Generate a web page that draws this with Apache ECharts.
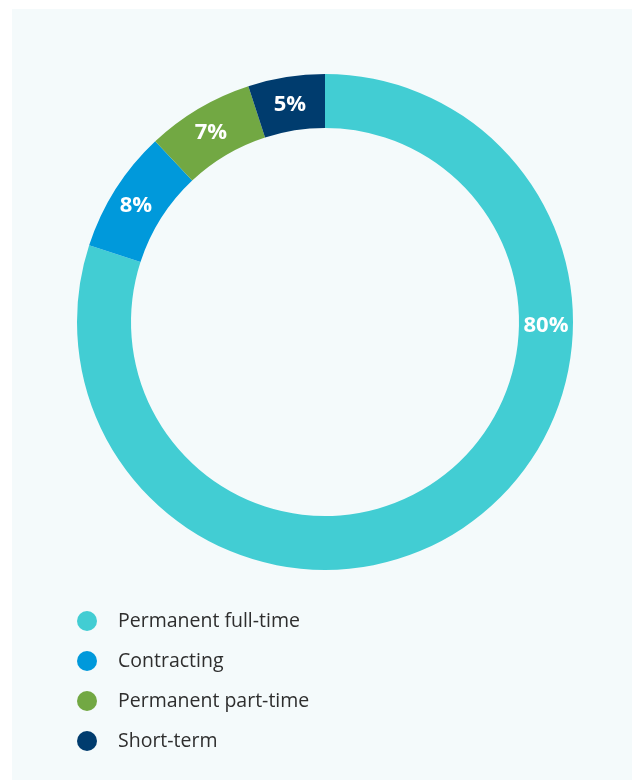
<!DOCTYPE html>
<html>
<head>
<meta charset="utf-8">
<script src="https://cdn.jsdelivr.net/npm/echarts@6/dist/echarts.min.js"></script>
<style>
  html, body { margin: 0; padding: 0; background: #ffffff; }
  #chart { width: 632px; height: 780px; }
</style>
</head>
<body>
<div id="chart"></div>
<script>
// Employment type breakdown (percent)
const categories = ['Permanent full-time', 'Contracting', 'Permanent part-time', 'Short-term'];
const values = [80, 8, 7, 5];
const colors = ['#42CDD3', '#0099DB', '#72A843', '#003C6E'];

const chart = echarts.init(document.getElementById('chart'), null, { renderer: 'canvas' });

const fontFamily = '"Open Sans", "Noto Sans", sans-serif';
const CX = 325, CY = 322, R_IN = 194, R_OUT = 248;

chart.setOption({
  animation: false,
  graphic: [{
    type: 'rect',
    left: 12,
    top: 9,
    shape: { width: 620, height: 771 },
    style: { fill: '#F4FAFB' },
    z: -10
  }],
  color: colors,
  legend: {
    orient: 'vertical',
    left: 72,
    top: 606,
    icon: 'circle',
    itemWidth: 20,
    itemHeight: 20,
    itemGap: 20,
    textStyle: {
      fontFamily: fontFamily,
      fontSize: 19.5,
      color: '#2e2e2e',
      padding: [0, 0, 0, 16]
    },
    data: categories
  },
  series: [{
    type: 'pie',
    center: [CX, CY],
    radius: [R_IN, R_OUT],
    startAngle: 90,
    clockwise: true,
    avoidLabelOverlap: false,
    itemStyle: { borderWidth: 0 },
    label: {
      show: true,
      position: 'inside',
      formatter: '{c}%',
      color: '#ffffff',
      fontFamily: fontFamily,
      fontSize: 22,
      fontWeight: 'bold'
    },
    // the large slice carries its label at the 3 o'clock point of the ring
    labelLayout: function (params) {
      if (params.dataIndex === 0) {
        return { x: CX + (R_IN + R_OUT) / 2, y: CY + 4, align: 'center', verticalAlign: 'middle' };
      }
      return { dy: 4 };
    },
    labelLine: { show: false },
    data: categories.map((name, i) => ({ name: name, value: values[i] }))
  }]
});
</script>
</body>
</html>
